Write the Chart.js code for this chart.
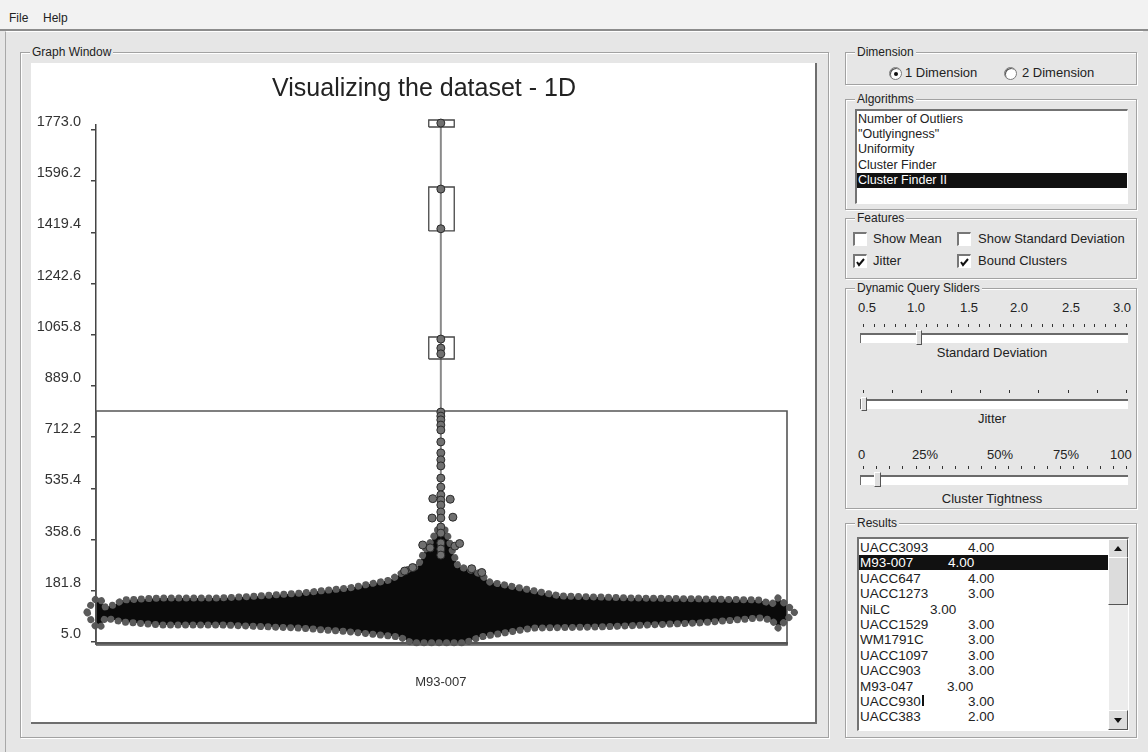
<!DOCTYPE html>
<html>
<head>
<meta charset="utf-8">
<title>Visualizing the dataset - 1D</title>
<script src="https://cdn.jsdelivr.net/npm/chart.js@4.4.1/dist/chart.umd.min.js"></script>
<style>
  body{margin:0;width:1148px;height:752px;background:#e6e6e6;font-family:"Liberation Sans",Arial,sans-serif;font-size:13px;color:#222;position:relative;overflow:hidden}
  .a{position:absolute;white-space:nowrap}
  .menubar{position:absolute;left:0;top:0;width:1148px;height:29px;background:#f2f2f2;border-bottom:2px solid #8c8c8c;font-size:12px}
  .menubar span{position:absolute;top:11px}
  .frame{position:absolute;left:5px;top:31px;width:1137px;height:721px;border-left:1px solid #a8a8a8;border-top:1px solid #fff}
  .grp{position:absolute;border:1px solid #a2a2a2;box-shadow:inset 1px 1px 0 #fff,1px 1px 0 #fff}
  .grp .cap{position:absolute;top:-8px;left:9px;background:#e6e6e6;padding:0 2px;font-size:12px;line-height:14px;color:#222}
  .lst{position:absolute;background:#fff;border-top:2px solid #737373;border-left:2px solid #737373;border-right:1px solid #fff;border-bottom:1px solid #fff;overflow:hidden;font-size:12.5px}
  .row{position:absolute;left:0;height:15px;line-height:15px}
  .sel{background:#111;color:#fff}
  .radio{position:absolute;width:11px;height:11px;border-radius:50%;background:#fff;border:1px solid #7a7a7a;box-shadow:inset 1px 1px 0 #555}
  .radio.on::after{content:"";position:absolute;left:4px;top:4px;width:4px;height:4px;border-radius:50%;background:#111}
  .cb{position:absolute;width:11px;height:11px;background:#fff;border-top:2px solid #777;border-left:2px solid #777;border-right:1px solid #fff;border-bottom:1px solid #fff}
  .tk{position:absolute;width:1px;height:3px;background:#333}
  .track{position:absolute;height:8px;background:#fff;border-top:2px solid #6a6a6a;border-left:1px solid #6a6a6a}
  .thumb{position:absolute;background:#dedede;border-top:1px solid #fff;border-left:1px solid #fff;border-right:1px solid #555;border-bottom:1px solid #555}
  .ctr{position:absolute;transform:translateX(-50%);white-space:nowrap}
  .plot{position:absolute;left:31px;top:63px;width:784px;height:659px;background:#fff;border-right:2px solid #6e6e6e;border-bottom:2px solid #6e6e6e}
  .sb{position:absolute;background:#dcdcdc;border-top:1px solid #fff;border-left:1px solid #fff;border-right:1px solid #555;border-bottom:1px solid #555}
</style>
</head>
<body>
<div class="menubar"><span style="left:9px">File</span><span style="left:43px">Help</span></div>
<div class="frame"></div>

<!-- graph window -->
<div class="grp" style="left:20px;top:52px;width:807px;height:684px"><span class="cap">Graph Window</span></div>
<div class="plot"><div style="position:relative;width:786px;height:661px"><canvas id="chart"></canvas></div></div>

<!-- right side controls -->
<div class="grp" style="left:845px;top:52px;width:290px;height:31px"><span class="cap">Dimension</span></div>
<div class="radio on" style="left:889px;top:67px"></div><span class="a" style="left:905px;top:65px">1 Dimension</span>
<div class="radio" style="left:1004px;top:67px"></div><span class="a" style="left:1022px;top:65px">2 Dimension</span>

<div class="grp" style="left:845px;top:99px;width:290px;height:109px"><span class="cap">Algorithms</span></div>
<div class="lst" id="algList" style="left:855px;top:109px;width:270px;height:92px"></div>

<div class="grp" style="left:845px;top:218px;width:290px;height:59px"><span class="cap">Features</span></div>
<div class="cb" style="left:853px;top:232px"></div><span class="a" style="left:873px;top:231px">Show Mean</span>
<div class="cb" style="left:957px;top:232px"></div><span class="a" style="left:978px;top:231px">Show Standard Deviation</span>
<div class="cb" style="left:853px;top:254px"><svg width="11" height="11"><polyline points="2,5 4,8 9,2" fill="none" stroke="#111" stroke-width="2"/></svg></div><span class="a" style="left:873px;top:253px">Jitter</span>
<div class="cb" style="left:957px;top:254px"><svg width="11" height="11"><polyline points="2,5 4,8 9,2" fill="none" stroke="#111" stroke-width="2"/></svg></div><span class="a" style="left:978px;top:253px">Bound Clusters</span>

<div class="grp" style="left:845px;top:288px;width:290px;height:219px"><span class="cap">Dynamic Query Sliders</span></div>
<span class="a" style="left:858px;top:300px">0.5</span><span class="a" style="left:907px;top:300px">1.0</span><span class="a" style="left:960px;top:300px">1.5</span>
<span class="a" style="left:1010px;top:300px">2.0</span><span class="a" style="left:1062px;top:300px">2.5</span><span class="a" style="left:1113px;top:300px">3.0</span>
<div class="track" style="left:860px;top:333px;width:267px"></div>
<div class="thumb" style="left:916px;top:330px;width:4px;height:13px"></div>
<span class="ctr" style="left:992px;top:345px">Standard Deviation</span>
<div class="track" style="left:860px;top:399px;width:267px"></div>
<div class="thumb" style="left:861px;top:397px;width:4px;height:12px"></div>
<span class="ctr" style="left:992px;top:411px">Jitter</span>
<span class="a" style="left:858px;top:447px">0</span><span class="a" style="left:912px;top:447px">25%</span><span class="a" style="left:987px;top:447px">50%</span>
<span class="a" style="left:1053px;top:447px">75%</span><span class="a" style="left:1110px;top:447px">100</span>
<div class="track" style="left:860px;top:475px;width:267px"></div>
<div class="thumb" style="left:874px;top:472px;width:5px;height:13px"></div>
<span class="ctr" style="left:992px;top:491px">Cluster Tightness</span>

<div class="grp" style="left:845px;top:523px;width:290px;height:213px"><span class="cap">Results</span></div>
<div class="lst" id="resList" style="left:857px;top:537px;width:269px;height:191px">
  <div class="sb" style="left:249px;top:0;width:18px;height:17px"><svg width="18" height="17"><polygon points="5,11 13,11 9,6" fill="#111"/></svg></div>
  <div style="position:absolute;left:250px;top:18px;width:19px;height:155px;background:#ececec"></div>
  <div class="sb" style="left:249px;top:18px;width:18px;height:46px"></div>
  <div class="sb" style="left:249px;top:171px;width:18px;height:18px"><svg width="18" height="18"><polygon points="5,7 13,7 9,12" fill="#111"/></svg></div>
</div>

<script>
// ---- chart data ----
const yTicks = [5.0, 181.8, 358.6, 535.4, 712.2, 889.0, 1065.8, 1242.6, 1419.4, 1596.2, 1773.0];
const yMin = 1.55, yMax = 1790.3;
const xMin = 0, xMax = 103.0;
const category = 'M93-007';
const categoryJitter = 51.4;   // jitter position of the attribute column

// outline of the dense jittered mass of points (x = jitter, y = value)
const upperX = [-1.34, -0.60, 0.15, 0.75, 1.34, 2.68, 4.02, 9.54, 18.48, 24.44, 30.40, 37.85, 43.82, 46.35, 47.99, 49.03, 50.07, 50.82, 52.16, 53.06, 53.95, 55.74, 57.23, 58.72, 64.68, 69.15, 80.03, 90.01, 98.96, 100.75, 101.64, 104.17];
const upperY = [109, 140, 157, 150, 126, 133, 150, 157, 157, 164, 174, 192, 219, 254, 267, 323, 357, 392, 392, 323, 267, 254, 240, 212, 185, 164, 157, 154, 150, 136, 157, 109];
const lowerX = [-1.34, -0.60, 0.15, 0.75, 1.34, 2.68, 4.02, 9.54, 18.48, 30.40, 37.85, 45.31, 47.09, 54.99, 57.23, 65.13, 75.11, 90.01, 98.96, 100.75, 101.64, 104.17];
const lowerY = [109, 74, 53, 60, 88, 81, 74, 64, 64, 53, 40, 22, 2, 2, 22, 53, 57, 71, 88, 81, 53, 109];

// individual points sticking out above the mass
const outlierX = [51.4, 51.4, 51.4, 51.4, 51.4, 51.4, 51.4, 51.4, 51.4, 51.4, 51.4, 51.4, 51.4, 51.4, 51.4, 51.4, 51.4, 51.4, 51.4, 51.4, 51.4, 51.4, 51.4, 51.4, 51.4, 51.4, 51.4,
                  50.2, 52.8, 50.1, 53.2, 48.7, 49.8, 53.5, 54.2, 47.2, 56.0, 46.0, 57.5];
const outlierY = [1797, 1569, 1432, 1051, 1020, 1000, 799, 785, 772, 754, 737, 696, 658, 634, 613, 571, 540, 513, 495, 478, 454, 433, 402, 381, 347, 326, 305,
                  500, 498, 433, 436, 340, 330, 336, 345, 262, 258, 250, 245];

// bound clusters
const boxLeft  = [0, 49.6, 49.6, 49.6];
const boxRight = [103.0, 53.4, 53.4, 53.4];
const boxLow   = [-5.4, 1424.6, 982.2, 1783.4];
const boxHigh  = [802.7, 1576.2, 1058.2, 1807.5];
const stemRange = [1807.5, 392];

// ---- side panel lists ----
const algorithms = ['Number of Outliers', '"Outlyingness"', 'Uniformity', 'Cluster Finder', 'Cluster Finder II'];
const selectedAlg = 4;
const resultNames  = ['UACC3093', 'M93-007', 'UACC647', 'UACC1273', 'NiLC', 'UACC1529', 'WM1791C', 'UACC1097', 'UACC903', 'M93-047', 'UACC930', 'UACC383'];
const resultScores = ['4.00', '4.00', '4.00', '3.00', '3.00', '3.00', '3.00', '3.00', '3.00', '3.00', '3.00', '2.00'];
const resultTab    = [109, 89, 109, 109, 71, 109, 109, 109, 109, 88, 109, 109];
const selectedRes = 1;

(function(){
  const alg = document.getElementById('algList');
  algorithms.forEach((a, i)=>{
    const r = document.createElement('div');
    r.className = 'row' + (i === selectedAlg ? ' sel' : '');
    r.style.top = (1 + i*15.2) + 'px'; r.style.width = '270px'; r.style.paddingLeft = '1px';
    r.textContent = a;
    alg.appendChild(r);
  });

  const res = document.getElementById('resList');
  resultNames.forEach((n, i)=>{
    const r = document.createElement('div');
    r.className = 'row' + (i === selectedRes ? ' sel' : '');
    r.style.top = (1 + i*15.4) + 'px'; r.style.width = '249px'; r.style.paddingLeft = '1px';
    r.style.fontSize = '13.5px';
    r.innerHTML = '<span>' + n + (n === 'UACC930' ? '<span style="display:inline-block;width:2px;height:11px;background:#111;margin-left:1px"></span>' : '') +
      '</span><span style="position:absolute;left:' + resultTab[i] + 'px">' + resultScores[i] + '</span>';
    res.insertBefore(r, res.firstChild);
  });

  // slider tick marks
  function tickRow(top, n){
    for (let i = 0; i < n; i++){
      const d = document.createElement('div');
      d.className = 'tk';
      d.style.left = Math.round(863 + i*263/(n-1)) + 'px';
      d.style.top = top + 'px';
      document.body.appendChild(d);
    }
  }
  tickRow(324, 26); tickRow(390, 10); tickRow(466, 21);
})();

// ---- chart ----
Chart.defaults.font.family = '"Liberation Sans", Arial, sans-serif';
Chart.defaults.color = '#333';

const pts = (xs, ys)=> xs.map((x, i)=> ({x, y: ys[i]}));
const outline = pts(upperX, upperY).concat(pts(lowerX, lowerY).reverse());

const boxSets = boxLeft.map((l, i)=> ({
  data: [{x:l, y:boxLow[i]}, {x:boxRight[i], y:boxLow[i]}, {x:boxRight[i], y:boxHigh[i]}, {x:l, y:boxHigh[i]}, {x:l, y:boxLow[i]}],
  showLine: true, borderColor: i === 0 ? '#555' : '#474747', borderWidth: i === 0 ? 1.6 : 1.3,
  pointRadius: 0, fill: false, clip: false, order: 2
}));

new Chart(document.getElementById('chart'), {
  type: 'scatter',
  data: {
    datasets: [
      { // the dense mass, edged with beads
        data: outline, showLine: true, fill: 'shape', backgroundColor: '#0a0a0a',
        borderColor: '#5a5a5a', borderWidth: 7, borderDash: [0.01, 7.5], borderCapStyle: 'round',
        pointRadius: 0, tension: 0, clip: false, order: 4
      },
      { // vertical link through the clusters
        data: [{x:categoryJitter, y:stemRange[0]}, {x:categoryJitter, y:stemRange[1]}],
        showLine: true, borderColor: '#8a8a8a', borderWidth: 2, pointRadius: 0, clip: false, order: 3
      },
      ...boxSets,
      {
        data: pts(outlierX, outlierY), pointRadius: 4, pointBackgroundColor: '#707070',
        pointBorderColor: '#2a2a2a', pointBorderWidth: 1, clip: false, order: 1
      }
    ]
  },
  options: {
    responsive: true, maintainAspectRatio: false, animation: false,
    events: [],
    layout: { padding: 0 },
    plugins: {
      legend: { display: false },
      tooltip: { enabled: false },
      title: { display: true, text: 'Visualizing the dataset - 1D', color: '#222',
               font: { size: 25, weight: 'normal' }, padding: { top: 11, bottom: 21 } }
    },
    scales: {
      x: {
        type: 'linear', min: xMin, max: xMax,
        afterBuildTicks: s => { s.ticks = [{value: categoryJitter}]; },
        afterFit: s => { s.height = 81; },
        ticks: { callback: () => category, font: { size: 13 }, color: '#333', padding: 32, maxRotation: 0, autoSkip: false },
        grid: { display: false, drawTicks: false },
        border: { color: '#555', width: 2.5 }
      },
      y: {
        type: 'linear', min: yMin, max: yMax,
        afterBuildTicks: s => { s.ticks = yTicks.map(v => ({value: v})); },
        afterFit: s => { s.width = 65; },
        ticks: { callback: v => Number(v).toFixed(1), font: { size: 14.5 }, color: '#333', padding: 10, labelOffset: -8, autoSkip: false },
        grid: { drawOnChartArea: false, tickLength: 5, color: '#444', lineWidth: 1.5 },
        border: { color: '#444', width: 1.5 }
      },
      // empty right margin of the plot frame
      margin: {
        type: 'linear', position: 'right', display: true,
        afterFit: s => { s.width = 30; },
        ticks: { display: false }, grid: { display: false }, border: { display: false }
      }
    }
  }
});
</script>
</body>
</html>
